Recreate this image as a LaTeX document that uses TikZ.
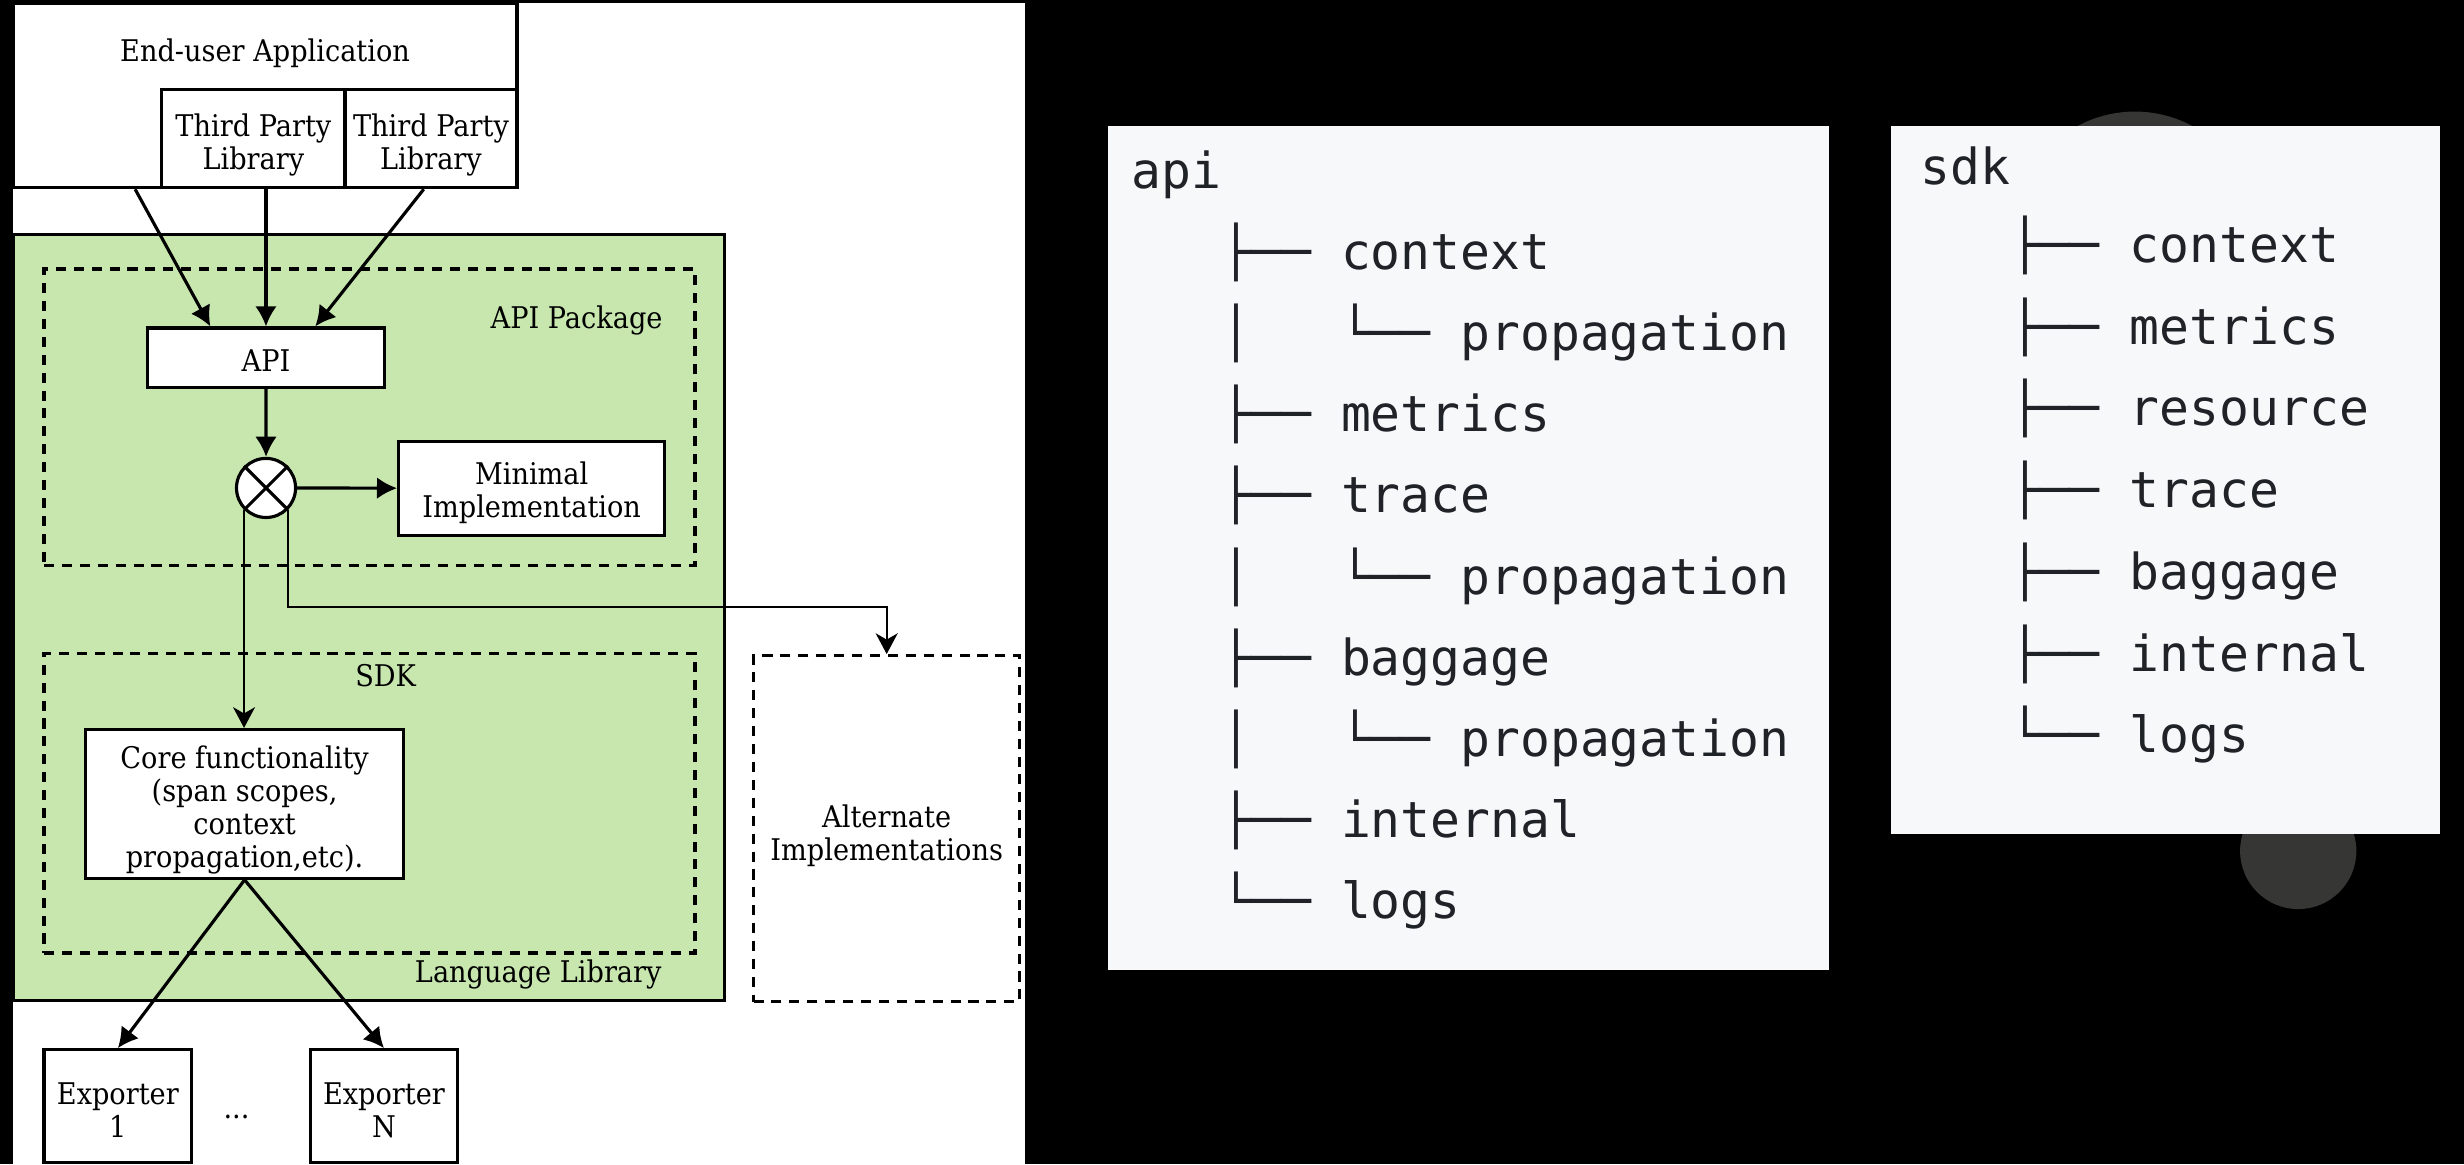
\documentclass[tikz,border=0pt]{standalone}
\usepackage{fontspec}
\usetikzlibrary{arrows.meta,calc}
\newfontfamily\diagfont{DejaVu Serif}[FakeStretch=0.91]
\newfontfamily\treefont{DejaVu Sans Mono}
\definecolor{libgreen}{RGB}{200,231,175}
\definecolor{panelbg}{RGB}{246,248,250}
\definecolor{treetext}{RGB}{31,35,40}
\definecolor{blob}{RGB}{54,54,52}
\tikzset{
  box/.style={draw=black, fill=white, line width=1pt, inner sep=0pt},
  dashbox/.style={draw=black, line width=1pt, dash pattern=on 3.2pt off 2.5pt, inner sep=0pt},
  lbl/.style={inner sep=0pt, align=center, font=\diagfont\fontsize{9.5}{10.5}\selectfont},
  arr/.style={line width=1pt, -{Latex[length=6.4pt,width=6.9pt]}},
  thinarr/.style={line width=0.65pt, -{Stealth[length=6.6pt,width=7pt,inset=2pt]}},
  tree/.style={anchor=base west, inner sep=0pt, text=treetext,
    font=\treefont\fontsize{15.8}{18}\selectfont},
}
\begin{document}
\begin{tikzpicture}[x=0.5pt,y=-0.5pt]
\useasboundingbox (0,0) rectangle (1568,741);
\fill[black] (0,0) rectangle (1568,741);
\fill[white] (8.4,2) rectangle (652.5,741);

% top application
\node[box, minimum width=160.3pt, minimum height=58.7pt] (app) at (168.7,60.7) {};
\node[lbl, anchor=base] (apptext) at (168.7,39) {End-user Application};
\node[box, minimum width=58.25pt, minimum height=31.1pt] (tpl1) at (161.25,88.3) {};
\node[box, minimum width=54.75pt, minimum height=31.1pt] (tpl2) at (274.25,88.3) {};
\node[lbl] (tpl1text) at (161.25,92) {Third Party\\Library};
\node[lbl] (tpl2text) at (274.25,92) {Third Party\\Library};

% language library
\node[draw=black, fill=libgreen, line width=1pt, inner sep=0pt,
      minimum width=226.3pt, minimum height=243.8pt] (langlib) at (234.7,392.8) {};
\node[dashbox, minimum width=207.15pt, minimum height=94.25pt] (apipkg) at (235.15,265.45) {};
\node[dashbox, minimum width=207.15pt, minimum height=95.2pt] (sdkpkg) at (235.15,511.2) {};
\node[lbl, anchor=base east] (apipkglbl) at (422,209) {API Package};
\node[lbl, anchor=base] (sdklbl) at (245.4,437) {SDK};
\node[lbl, anchor=base east] (langlbl) at (421.4,625.5) {Language Library};

\node[box, minimum width=75.25pt, minimum height=18.9pt] (api) at (169.25,227.6) {};
\node[lbl] (apitext) at (169.25,229.6) {API};
\node[circle, draw=black, fill=white, line width=1pt, inner sep=0pt, minimum size=18.8pt] (mux) at (169.3,310.5) {};
\draw[line width=1pt] (mux.north west) -- (mux.south east) (mux.north east) -- (mux.south west);
\node[box, minimum width=84.65pt, minimum height=29.85pt] (minimpl) at (338.35,310.65) {};
\node[lbl] (mintext) at (338.35,313.6) {Minimal\\Implementation};
\node[box, minimum width=101.35pt, minimum height=47.35pt] (core) at (155.65,511.55) {};
\node[lbl] (coretext) at (155.65,515.5) {Core functionality\\(span scopes,\\context\\propagation,etc).};
\node[dashbox, minimum width=84.75pt, minimum height=110.15pt] (alt) at (564.25,527.35) {};
\node[lbl] (alttext) at (564.25,532) {Alternate\\Implementations};
\node[box, minimum width=47pt, minimum height=36pt] (exp1) at (75,704) {};
\node[box, minimum width=47pt, minimum height=36pt] (expN) at (244.35,704) {};
\node[lbl] (exp1text) at (75,706.5) {Exporter\\1};
\node[lbl] (expNtext) at (244.35,706.5) {Exporter\\N};
\node[lbl] (dots) at (150.5,711) {...};

% connectors
\draw[arr] ([xshift=39.3pt]app.south west) -- ([xshift=-17.7pt]api.north);
\draw[arr] (tpl1.south -| api.north) -- (api.north);
\draw[arr] ([xshift=-2.3pt]tpl2.south) -- ([xshift=15.7pt]api.north);
\draw[arr] (api.south) -- (mux.north);
\draw[arr] (mux.east) -- (minimpl.west);
\draw[thinarr] (mux.south west) -- (mux.south west |- core.north);
\coordinate (bend) at (564.25,386.5);
\draw[thinarr] (mux.south east) |- (bend) -- (alt.north);
\draw[arr] (core.south) -- (exp1.north);
\draw[arr] (core.south) -- (expN.north);

% right panels
\fill[blob] (1358.6,148) circle[radius=38.5pt];
\fill[blob] (1462.5,541.5) circle[radius=18.5pt];
\fill[panelbg] (705,80) rectangle (1164,617);
\fill[panelbg] (1203.3,80.2) rectangle (1552.7,531);

% api tree
\node[tree] (a0) at (719.8,120) {api};
\node[tree] (a1) at (776.9,171.6) {├── context};
\node[tree] (a2v) at (776.9,223.2) {│};
\node[tree] (a2) at (852.9,223.2) {└── propagation};
\node[tree] (a3) at (776.9,274.8) {├── metrics};
\node[tree] (a4) at (776.9,326.4) {├── trace};
\node[tree] (a5v) at (776.9,378) {│};
\node[tree] (a5) at (852.9,378) {└── propagation};
\node[tree] (a6) at (776.9,429.6) {├── baggage};
\node[tree] (a7v) at (776.9,481.2) {│};
\node[tree] (a7) at (852.9,481.2) {└── propagation};
\node[tree] (a8) at (776.9,532.8) {├── internal};
\node[tree] (a9) at (776.9,584.4) {└── logs};

% sdk tree
\node[tree] (s0) at (1221.7,117.5) {sdk};
\node[tree] (s1) at (1278.8,167) {├── context};
\node[tree] (s2) at (1278.8,219) {├── metrics};
\node[tree] (s3) at (1278.8,271) {├── resource};
\node[tree] (s4) at (1278.8,323) {├── trace};
\node[tree] (s5) at (1278.8,375) {├── baggage};
\node[tree] (s6) at (1278.8,427) {├── internal};
\node[tree] (s7) at (1278.8,479) {└── logs};
\end{tikzpicture}
\end{document}
